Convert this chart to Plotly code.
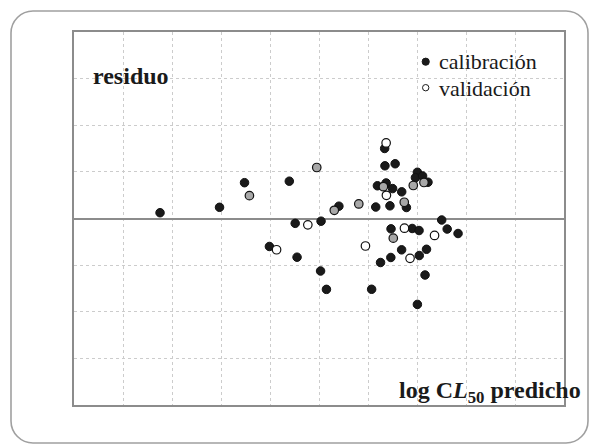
import plotly.graph_objects as go

# ---- data ----
cal_x = [0.878, 1.485, 1.740, 2.197, 2.257, 2.521, 1.994, 2.276, 2.516, 2.576,
         2.703, 3.037, 3.079, 3.096, 3.170, 3.173, 3.277, 3.185, 3.251, 3.344,
         3.224, 3.392, 3.504, 3.484, 3.557, 3.612, 3.235, 3.451, 3.521, 3.343,
         3.233, 3.128, 3.523, 3.597, 3.582, 3.504, 3.752, 3.808, 3.919]
cal_y = [0.062, 0.120, 0.384, 0.400, -0.052, -0.029, -0.300, -0.415, -0.563, -0.760,
         0.132, -0.759, 0.123, 0.351, 0.751, 0.565, 0.587, 0.381, 0.321, 0.286,
         0.136, 0.118, 0.496, 0.438, 0.456, 0.389, -0.111, -0.107, -0.129, -0.336,
         -0.418, -0.472, -0.397, -0.330, -0.606, -0.921, -0.016, -0.113, -0.161]

gray_x = [1.790, 2.477, 2.656, 2.906, 3.157, 3.370, 3.462, 3.571, 3.258]
gray_y = [0.245, 0.547, 0.088, 0.156, 0.341, 0.174, 0.354, 0.386, -0.211]

val_x = [2.067, 2.386, 2.974, 3.185, 3.188, 3.372, 3.429, 3.679]
val_y = [-0.335, -0.068, -0.295, 0.810, 0.249, -0.104, -0.427, -0.182]

legend_labels = ["calibración", "validación"]
y_label = "residuo"
x_label = "log C<i>L</i><sub>50</sub> predicho"

FONT = "Liberation Serif"
W, H = 589, 444
ML, MR, MT, MB = 74, 25, 32, 39
PW, PH = W - ML - MR, H - MT - MB


def px_x(p):  # pixel -> paper
    return (p - ML) / PW


def px_y(p):
    return (H - MB - p) / PH


fig = go.Figure()
fig.add_trace(go.Scatter(x=cal_x, y=cal_y, mode="markers", name=legend_labels[0],
                         marker=dict(size=8.5, color="#1a1a1a",
                                     line=dict(color="#111111", width=1))))
fig.add_trace(go.Scatter(x=gray_x, y=gray_y, mode="markers", showlegend=False,
                         marker=dict(size=8.5, color="#a8a8a8",
                                     line=dict(color="#111111", width=1.2))))
fig.add_trace(go.Scatter(x=val_x, y=val_y, mode="markers", name=legend_labels[1],
                         marker=dict(size=8.5, color="white",
                                     line=dict(color="#111111", width=1.2))))

axis_common = dict(showticklabels=False, ticks="", showgrid=True,
                   gridcolor="#cccccc", gridwidth=1, griddash="dot",
                   showline=True, linecolor="#8c8c8c", linewidth=1.5, mirror=True)
fig.update_xaxes(range=[0, 5], dtick=0.5, tick0=0, zeroline=False, **axis_common)
fig.update_yaxes(range=[-2, 2], dtick=0.5, tick0=0, zeroline=True,
                 zerolinecolor="#8c8c8c", zerolinewidth=1.5, **axis_common)

shapes = []
# outer rounded frame
x0, x1 = px_x(11), px_x(588)
yt, yb = px_y(11), px_y(443)
rx, ry = 22 / PW, 22 / PH
k = 0.5523
path = (f"M {x0+rx},{yt} L {x1-rx},{yt} "
        f"C {x1-rx+k*rx},{yt} {x1},{yt-ry+k*ry} {x1},{yt-ry} "
        f"L {x1},{yb+ry} "
        f"C {x1},{yb+ry-k*ry} {x1-rx+k*rx},{yb} {x1-rx},{yb} "
        f"L {x0+rx},{yb} "
        f"C {x0+rx-k*rx},{yb} {x0},{yb+ry-k*ry} {x0},{yb+ry} "
        f"L {x0},{yt-ry} "
        f"C {x0},{yt-ry+k*ry} {x0+rx-k*rx},{yt} {x0+rx},{yt} Z")
shapes.append(dict(type="path", xref="paper", yref="paper", path=path,
                   line=dict(color="#a0a0a0", width=1.6), layer="below"))
# white patches hiding grid behind texts
shapes.append(dict(type="rect", xref="paper", yref="paper",
                   x0=px_x(90), x1=px_x(172), y0=px_y(92), y1=px_y(67),
                   fillcolor="white", line=dict(width=0), layer="between"))
shapes.append(dict(type="rect", xref="paper", yref="paper",
                   x0=px_x(396), x1=1, y0=0, y1=px_y(378),
                   fillcolor="white", line=dict(width=0), layer="between"))
# legend glyphs
r1 = 3.6
shapes.append(dict(type="circle", xref="paper", yref="paper",
                   x0=px_x(425.7 - r1), x1=px_x(425.7 + r1),
                   y0=px_y(61.7 + r1), y1=px_y(61.7 - r1),
                   fillcolor="#1a1a1a", line=dict(color="#1a1a1a", width=1), layer="above"))
r2 = 3.2
shapes.append(dict(type="circle", xref="paper", yref="paper",
                   x0=px_x(425.7 - r2), x1=px_x(425.7 + r2),
                   y0=px_y(87.7 + r2), y1=px_y(87.7 - r2),
                   fillcolor="white", line=dict(color="#1a1a1a", width=1), layer="above"))

annotations = [
    dict(text="<b>" + y_label + "</b>", xref="paper", yref="paper", x=px_x(90.7), y=px_y(76.2),
         xanchor="left", yanchor="middle", showarrow=False,
         font=dict(family=FONT, size=24, color="#1a1a1a")),
    dict(text="<b>" + x_label + "</b>", xref="paper", yref="paper", x=px_x(397), y=px_y(392.3),
         xanchor="left", yanchor="middle", showarrow=False,
         font=dict(family=FONT, size=24, color="#1a1a1a")),
    dict(text=legend_labels[0], xref="paper", yref="paper", x=px_x(436.7), y=px_y(61.7),
         xanchor="left", yanchor="middle", showarrow=False,
         font=dict(family=FONT, size=22, color="#1a1a1a")),
    dict(text=legend_labels[1], xref="paper", yref="paper", x=px_x(436.7), y=px_y(88.4),
         xanchor="left", yanchor="middle", showarrow=False,
         font=dict(family=FONT, size=22, color="#1a1a1a")),
]

fig.update_layout(width=W, height=H, margin=dict(l=ML, r=MR, t=MT, b=MB),
                  paper_bgcolor="white", plot_bgcolor="white", showlegend=False,
                  shapes=shapes, annotations=annotations,
                  font=dict(family=FONT))

fig.write_html("out.html", config={"displayModeBar": False},
               post_script="document.body.style.margin='0';document.body.style.padding='0';"
                           "document.body.style.overflow='hidden';")
